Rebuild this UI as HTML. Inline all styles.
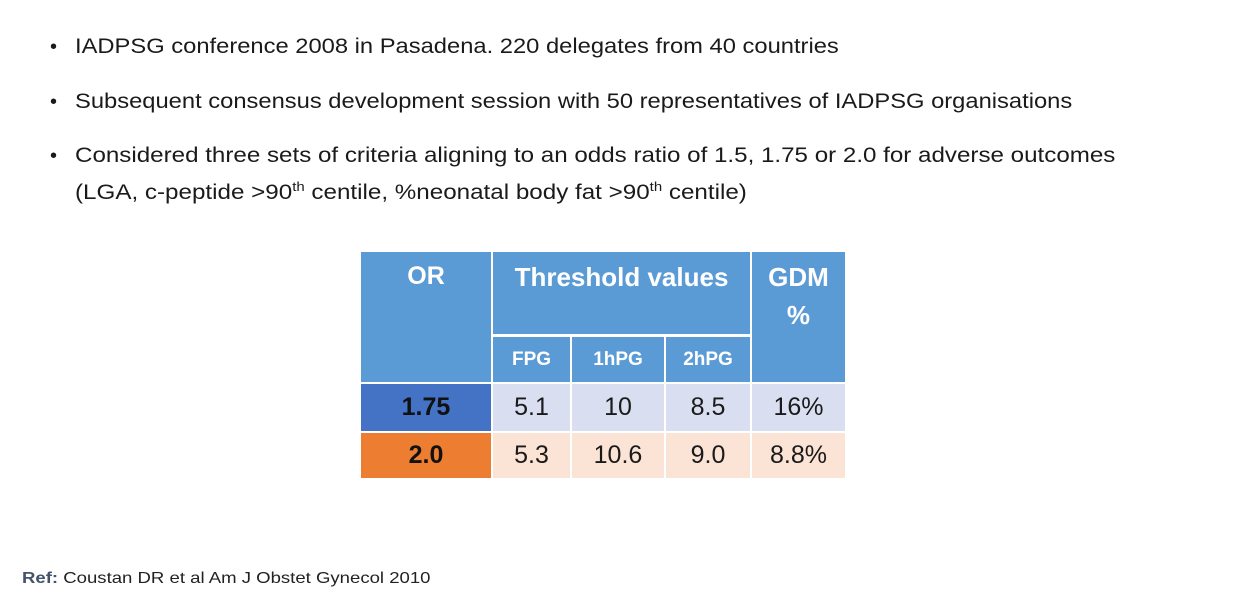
<!DOCTYPE html>
<html><head><meta charset="utf-8"><style>
body{margin:0;width:1254px;height:597px;background:#fff;position:relative;overflow:hidden;font-family:"Liberation Sans",sans-serif;color:#1a1a1a}
.t{position:absolute;font-size:21px;white-space:nowrap;line-height:26px;transform:scaleX(1.13);transform-origin:0 0}
.b{position:absolute;left:50px;font-size:20px;line-height:26px}
.c{position:absolute;display:flex;align-items:center;justify-content:center;font-size:25px;box-sizing:border-box}
.h{background:#5B9BD5;color:#fff;font-weight:bold}
sup{font-size:13px;line-height:0}
</style></head><body>
<div class="b" style="top:34px">•</div><div class="t" style="left:75px;top:34px">IADPSG conference 2008 in Pasadena. 220 delegates from 40 countries</div>
<div class="b" style="top:89px">•</div><div class="t" style="left:75px;top:89px">Subsequent consensus development session with 50 representatives of IADPSG organisations</div>
<div class="b" style="top:143px">•</div><div class="t" style="left:75px;top:143px;transform:scaleX(1.15)">Considered three sets of criteria aligning to an odds ratio of 1.5, 1.75 or 2.0 for adverse outcomes</div>
<div class="t" style="left:75px;top:180px;transform:scaleX(1.152)">(LGA, c-peptide &gt;90<sup>th</sup> centile, %neonatal body fat &gt;90<sup>th</sup> centile)</div>

<div class="c h" style="left:361px;top:252px;width:130px;height:130px;align-items:flex-start;padding-top:10px">OR</div>
<div class="c h" style="left:493px;top:252px;width:257px;height:82px;align-items:flex-start;padding-top:10px;font-size:26px">Threshold values</div>
<div class="c h" style="left:752px;top:252px;width:93px;height:130px;align-items:flex-start;padding-top:6px;line-height:38px;text-align:center;font-size:26px">GDM<br>%</div>
<div class="c h" style="left:493px;top:337px;width:77px;height:45px;font-size:19px">FPG</div>
<div class="c h" style="left:572px;top:337px;width:92px;height:45px;font-size:19px">1hPG</div>
<div class="c h" style="left:666px;top:337px;width:84px;height:45px;font-size:19px">2hPG</div>

<div class="c" style="left:361px;top:384px;width:130px;height:47px;background:#4472C4;font-weight:bold;color:#111">1.75</div>
<div class="c" style="left:493px;top:384px;width:77px;height:47px;background:#D9DFF0">5.1</div>
<div class="c" style="left:572px;top:384px;width:92px;height:47px;background:#D9DFF0">10</div>
<div class="c" style="left:666px;top:384px;width:84px;height:47px;background:#D9DFF0">8.5</div>
<div class="c" style="left:752px;top:384px;width:93px;height:47px;background:#D9DFF0">16%</div>

<div class="c" style="left:361px;top:433px;width:130px;height:45px;background:#ED7D31;font-weight:bold;color:#111">2.0</div>
<div class="c" style="left:493px;top:433px;width:77px;height:45px;background:#FBE3D5">5.3</div>
<div class="c" style="left:572px;top:433px;width:92px;height:45px;background:#FBE3D5">10.6</div>
<div class="c" style="left:666px;top:433px;width:84px;height:45px;background:#FBE3D5">9.0</div>
<div class="c" style="left:752px;top:433px;width:93px;height:45px;background:#FBE3D5">8.8%</div>

<div class="t" style="left:22px;top:566px;font-size:16px;color:#222;transform:scaleX(1.16)"><b style="color:#44546A">Ref:</b> Coustan DR et al Am J Obstet Gynecol 2010</div>
</body></html>
